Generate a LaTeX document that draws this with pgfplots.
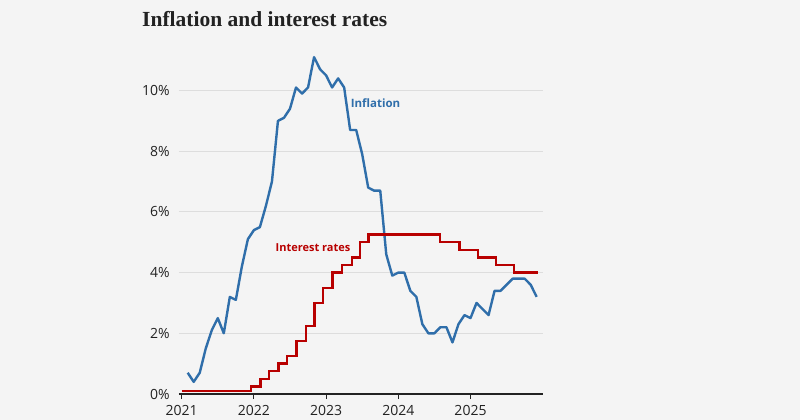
\documentclass[border=0pt]{standalone}
\usepackage{pgfplots}
\pgfplotsset{compat=1.18}
\usepackage{fontspec}
\setmainfont{Open Sans}
\newfontfamily\titlefont{Liberation Serif}

\definecolor{bgcol}{HTML}{F4F4F4}
\definecolor{infl}{HTML}{2F6EAA}
\definecolor{rate}{HTML}{B80000}
\definecolor{txt}{HTML}{222222}
\definecolor{gridc}{HTML}{DDDDDD}

\begin{document}
\begin{tikzpicture}[x=1pt,y=1pt]
\fill[bgcol] (0,0) rectangle (800,420);
\node[anchor=base west, inner sep=0pt, text=txt] at (142,393)
  {\titlefont\bfseries\fontsize{21.5}{24}\selectfont Inflation and interest rates};

\begin{axis}[
  at={(178.8pt,26pt)}, anchor=origin,
  scale only axis,
  width=363.9pt, height=349pt,
  xmin=2020.96, xmax=2026,
  ymin=0, ymax=11.5,
  axis x line*=bottom,
  axis y line*=left,
  y axis line style={draw=none},
  x axis line style={draw=txt, line width=1.2pt},
  xtick={2021,2022,2023,2024,2025},
  ytick={0,2,4,6,8,10},
  tick align=outside,
  xtick style={draw=txt, line width=1pt},
  ytick style={draw=none},
  major tick length=5pt,
  ymajorgrids,
  grid style={draw=gridc, line width=0.9pt},
  x tick label style={/pgf/number format/1000 sep={}},
  yticklabel={\pgfmathprintnumber{\tick}\%},
  ticklabel style={font=\fontsize{14}{16}\selectfont, text=txt},
  xticklabel style={anchor=north, inner sep=0pt, yshift=-6pt},
  yticklabel style={anchor=east, inner sep=0pt, xshift=-4pt},
  /pgf/number format/assume math mode=true,
  clip=false,
]
% UK CPI, monthly
\addplot[infl, line width=2.4pt, line join=round] table {
x y
2021.0833 0.7
2021.1667 0.4
2021.25 0.7
2021.3333 1.5
2021.4167 2.1
2021.5 2.5
2021.5833 2.0
2021.6667 3.2
2021.75 3.1
2021.8333 4.2
2021.9167 5.1
2022.0 5.4
2022.0833 5.5
2022.1667 6.2
2022.25 7.0
2022.3333 9.0
2022.4167 9.1
2022.5 9.4
2022.5833 10.1
2022.6667 9.9
2022.75 10.1
2022.8333 11.1
2022.9167 10.7
2023.0 10.5
2023.0833 10.1
2023.1667 10.4
2023.25 10.1
2023.3333 8.7
2023.4167 8.7
2023.5 7.9
2023.5833 6.8
2023.6667 6.7
2023.75 6.7
2023.8333 4.6
2023.9167 3.9
2024.0 4.0
2024.0833 4.0
2024.1667 3.4
2024.25 3.2
2024.3333 2.3
2024.4167 2.0
2024.5 2.0
2024.5833 2.2
2024.6667 2.2
2024.75 1.7
2024.8333 2.3
2024.9167 2.6
2025.0 2.5
2025.0833 3.0
2025.1667 2.8
2025.25 2.6
2025.3333 3.4
2025.4167 3.4
2025.5 3.6
2025.5833 3.8
2025.6667 3.8
2025.75 3.8
2025.8333 3.6
2025.9167 3.2
};
% Bank Rate
\addplot[rate, line width=2.4pt, const plot mark left, line join=miter] table {
x y
2021.0 0.1
2021.956 0.25
2022.09 0.5
2022.21 0.75
2022.34 1.0
2022.455 1.25
2022.59 1.75
2022.72 2.25
2022.84 3.0
2022.953 3.5
2023.088 4.0
2023.22 4.25
2023.36 4.5
2023.47 5.0
2023.59 5.25
2024.58 5.0
2024.85 4.75
2025.10 4.5
2025.35 4.25
2025.60 4.0
2025.935 4.0
};
\node[text=infl, font=\bfseries\fontsize{11.5}{13}\selectfont, inner sep=0pt] at (axis cs:2023.684,9.59) {Inflation};
\node[text=rate, font=\bfseries\fontsize{11}{13}\selectfont, inner sep=0pt] at (axis cs:2022.819,4.81) {Interest rates};
\end{axis}
\pgfresetboundingbox
\useasboundingbox (0,0) rectangle (800,420);
\end{tikzpicture}
\end{document}
